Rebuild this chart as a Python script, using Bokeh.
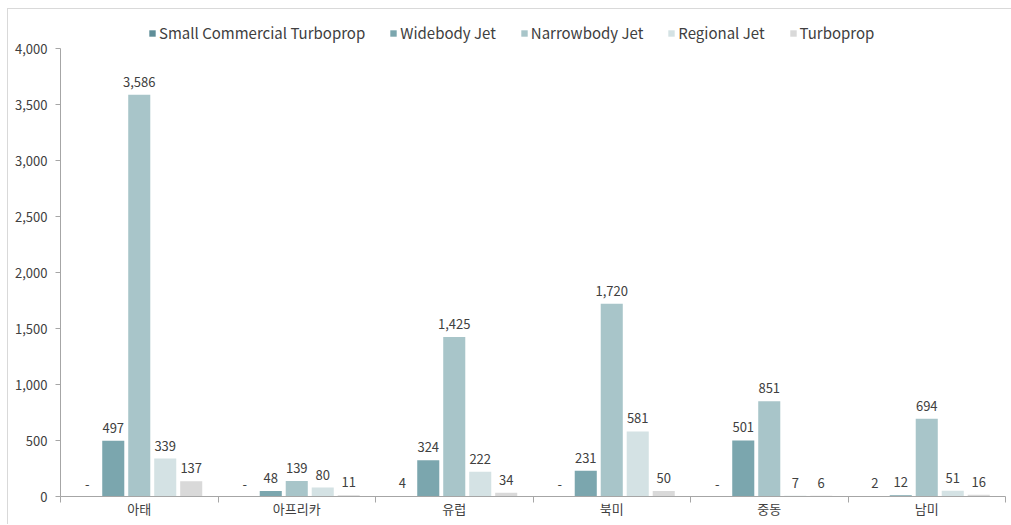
from bokeh.plotting import figure
from bokeh.models import ColumnDataSource, FixedTicker, LabelSet, Legend, LegendItem, NumeralTickFormatter
from bokeh.core.properties import value
from bokeh.transform import dodge
from bokeh.embed import file_html
from bokeh.resources import INLINE

regions = ["아태", "아프리카", "유럽", "북미", "중동", "남미"]
series_names = ["Small Commercial Turboprop", "Widebody Jet", "Narrowbody Jet", "Regional Jet", "Turboprop"]
small_commercial_turboprop = [0, 0, 4, 0, 0, 2]
widebody_jet = [497, 48, 324, 231, 501, 12]
narrowbody_jet = [3586, 139, 1425, 1720, 851, 694]
regional_jet = [339, 80, 222, 581, 7, 51]
turboprop = [137, 11, 34, 50, 6, 16]
y_ticks = [0, 500, 1000, 1500, 2000, 2500, 3000, 3500, 4000]

series_values = [small_commercial_turboprop, widebody_jet, narrowbody_jet, regional_jet, turboprop]
colors = ["#5f8e98", "#7ba6ae", "#a8c5c9", "#d4e2e4", "#d9d9d9"]
offsets = [-0.33, -0.165, 0.0, 0.165, 0.33]
bar_w = 0.14
FONT = "Noto Sans CJK KR"

centers = [i + 0.5 for i in range(len(regions))]

# frame spans from the chart border down to the axis; the axis itself covers 0..4000 (448 px)
frame_h = 487
axis_h = 448
y_top = y_ticks[-1] * frame_h / axis_h

p = figure(width=1004, height=516, output_backend="svg", toolbar_location=None,
           x_range=(0, len(regions)), y_range=(0, y_top),
           min_border_left=52, min_border_right=7, min_border_top=0, min_border_bottom=29)
p.margin = (8, 0, 0, 7)
p.styles = {"border-top": "1px solid #d9d9d9", "border-left": "1px solid #d9d9d9"}
p.xgrid.visible = False
p.ygrid.visible = False
p.outline_line_color = None

items = []
for name, vals, col, off in zip(series_names, series_values, colors, offsets):
    src = ColumnDataSource(dict(x=centers, top=vals,
                                lab=["-" if v == 0 else f"{v:,}" for v in vals]))
    r = p.vbar(x=dodge("x", off), top="top", width=bar_w, bottom=0, source=src,
               fill_color=col, line_color=None)
    items.append(LegendItem(label=name, renderers=[r]))
    ls = LabelSet(x=dodge("x", off), y="top", text="lab", source=src,
                  text_align="center", text_baseline="bottom", y_offset=8,
                  text_font=value(FONT), text_font_size=value("13px"), text_color="#404040")
    p.add_layout(ls)

# axes
p.xaxis.ticker = FixedTicker(ticks=centers, minor_ticks=list(range(len(regions) + 1)))
p.xaxis.major_label_overrides = {c: r for c, r in zip(centers, regions)}
p.xaxis.major_tick_line_color = None
p.xaxis.minor_tick_out = 6
p.xaxis.minor_tick_in = 0
p.xaxis.minor_tick_line_color = "#a6a6a6"
p.xaxis.axis_line_color = "#a6a6a6"
p.xaxis.major_label_text_font = FONT
p.xaxis.major_label_text_font_size = "13px"
p.xaxis.major_label_text_color = "#404040"
p.xaxis.major_label_standoff = -4

p.yaxis.ticker = FixedTicker(ticks=y_ticks)
p.yaxis.bounds = (y_ticks[0], y_ticks[-1])
p.yaxis.formatter = NumeralTickFormatter(format="0,0")
p.yaxis.axis_line_color = "#a6a6a6"
p.yaxis.major_tick_line_color = "#a6a6a6"
p.yaxis.major_tick_out = 5
p.yaxis.major_tick_in = 0
p.yaxis.minor_tick_line_color = None
p.yaxis.major_label_text_font = FONT
p.yaxis.major_label_text_font_size = "13px"
p.yaxis.major_label_text_color = "#404040"
p.yaxis.major_label_standoff = 8

legend = Legend(items=items, orientation="horizontal", location=(88, 453),
                label_text_font=FONT, label_text_font_size="15px", label_text_color="#404040",
                glyph_width=8, glyph_height=8, label_standoff=3, spacing=24,
                border_line_color=None, background_fill_alpha=0, padding=0, margin=0)
p.add_layout(legend)

open("out.html", "w").write(file_html(p, INLINE))
